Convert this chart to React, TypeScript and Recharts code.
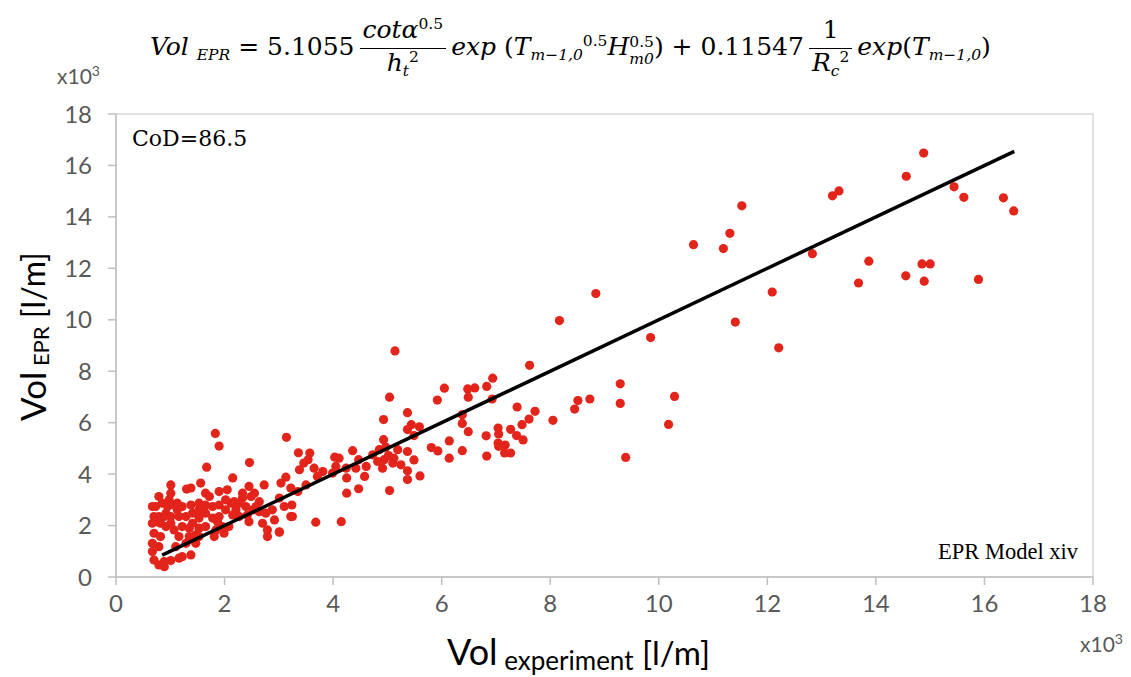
import React from 'react'
import { ScatterChart, Scatter, XAxis, YAxis, ReferenceArea } from 'recharts'

// experimental volume vs EPR-predicted volume, both in x10^3 l/m
const volExperiment = [
  14.88, 14.56, 15.44, 15.62, 16.35, 16.54, 13.2, 13.32, 11.53, 11.31, 10.64, 11.19,
  12.83, 13.87, 14.85, 15.0, 14.55, 14.89, 13.68, 15.89, 12.09, 11.41, 9.85, 12.21,
  8.84, 8.17, 5.14, 7.62, 6.94, 6.83, 6.61, 6.48, 6.05, 6.49, 5.92, 6.93, 5.04, 9.29,
  8.73, 8.51, 8.45, 9.29, 10.29, 10.18, 9.39, 8.05, 7.72, 7.61, 7.39, 7.48, 7.38, 7.5,
  7.27, 7.04, 7.05, 7.04, 7.05, 7.17, 7.16, 7.27, 6.82, 6.83, 6.49, 6.38, 6.38, 6.38,
  6.14, 6.14, 5.93, 5.81, 5.59, 5.44, 5.37, 5.37, 5.49, 5.37, 5.49, 5.37, 5.37, 5.6,
  5.25, 5.04, 4.93, 4.93,
  1.83, 1.9, 3.14, 2.46, 1.67, 3.36, 3.57, 3.54, 3.46, 3.38, 3.13, 3.04, 3.68, 4.15,
  4.03, 4.11, 4.36, 4.47, 4.61, 4.25, 4.25, 4.47, 4.73, 4.85, 4.82, 4.91, 3.71, 3.81,
  3.22, 3.24, 3.22, 3.01, 2.79, 2.79, 2.7, 2.76, 2.88, 2.45, 2.55, 2.73, 2.64, 2.33,
  2.39, 2.45, 2.15, 1.9, 2.05, 2.12, 2.02, 2.21, 1.9, 2.08, 1.84, 1.53, 1.65, 1.53,
  1.78, 1.65, 1.53, 1.47, 1.38, 1.3, 1.56, 1.38, 1.29, 1.22, 1.35, 1.22, 1.38, 1.01,
  1.16, 1.01, 1.01, 1.13, 0.95, 1.01, 1.16, 1.07, 1.16, 1.1, 0.79, 0.73, 0.67, 0.7,
  0.67, 0.7, 0.67, 0.67, 0.7, 0.79, 0.89, 0.89, 0.85, 0.89, 0.92, 0.82, 0.79, 0.98,
  1.07, 1.13, 0.92, 0.79, 0.76, 0.82, 1.01, 1.22, 1.41, 1.59, 1.78, 1.72, 1.9, 1.65,
  1.41, 1.47, 1.87, 1.96, 1.81, 1.99, 2.18, 2.27, 2.27, 2.15, 2.42, 2.52, 2.58, 2.64,
  2.49, 2.33, 2.02, 1.65, 1.53, 1.53, 1.35, 1.29, 3.01, 3.1, 2.92, 3.35, 3.5, 3.65,
  3.99, 4.05, 4.24, 4.42, 4.58, 4.94, 5.1, 5.19, 3.25, 3.01, 5.02, 4.97, 5.12,
]

const volEpr = [
  16.48, 15.58, 15.17, 14.76, 14.74, 14.23, 14.82, 15.01, 14.43, 13.36, 12.92, 12.77,
  12.57, 12.28, 12.17, 12.17, 11.71, 11.5, 11.43, 11.57, 11.08, 9.91, 9.31, 8.91,
  11.02, 9.97, 8.79, 8.23, 7.73, 7.41, 7.35, 7.31, 7.34, 6.99, 6.88, 6.92, 6.99, 7.51,
  6.92, 6.86, 6.53, 6.75, 7.02, 5.93, 4.65, 6.09, 6.44, 6.14, 6.61, 5.92, 5.5, 5.33,
  5.74, 5.79, 5.56, 5.21, 5.08, 5.13, 4.82, 4.82, 5.49, 4.7, 5.65, 5.97, 6.31, 4.91,
  5.29, 4.62, 4.9, 5.03, 5.84, 5.92, 6.39, 5.73, 5.5, 4.88, 4.55, 4.13, 3.79, 3.93,
  4.36, 3.36, 6.12, 5.34,
  5.58, 5.09, 5.43, 4.45, 4.27, 4.83, 4.82, 4.56, 4.43, 4.17, 3.88, 3.65, 2.13, 2.15,
  4.66, 4.62, 4.91, 4.56, 4.3, 3.85, 3.26, 3.43, 4.75, 4.95, 4.49, 4.23, 3.91, 4.1,
  2.35, 2.8, 3.46, 1.76, 1.83, 1.57, 2.09, 2.48, 2.61, 3.52, 3.26, 3.58, 2.93, 3.07,
  2.74, 2.15, 3.85, 3.32, 3.39, 2.87, 2.61, 2.61, 2.35, 1.96, 1.83, 2.87, 2.8, 2.29,
  2.29, 1.96, 1.57, 1.31, 3.46, 3.42, 3.65, 2.8, 2.35, 1.96, 1.9, 0.79, 0.86, 0.64,
  0.73, 3.58, 3.26, 2.87, 2.74, 2.35, 2.35, 1.83, 1.57, 1.18, 3.13, 2.74, 2.74, 2.35,
  2.09, 1.7, 1.31, 0.99, 0.66, 0.47, 0.4, 0.6, 2.87, 2.35, 1.96, 1.57, 1.18, 3.0,
  2.8, 2.61, 2.48, 2.35, 2.15, 2.09, 2.09, 2.74, 2.48, 2.54, 2.74, 3.13, 2.8, 3.26,
  2.09, 1.64, 2.15, 1.96, 1.57, 1.7, 2.93, 2.87, 2.35, 2.41, 2.41, 2.61, 2.74, 2.54,
  3.13, 3.26, 3.0, 2.48, 2.61, 1.9, 1.57, 1.31, 3.07, 2.74, 2.22, 3.32, 3.58, 4.23,
  4.04, 4.3, 4.23, 4.23, 3.91, 4.56, 4.43, 4.95, 2.35, 1.74, 4.72, 5.05, 4.62,
]

// 1:1 line end points
const lineX = [0.85, 16.55]
const lineY = [0.85, 16.55]

const axisTicks = [0, 2, 4, 6, 8, 10, 12, 14, 16, 18]

const points = volExperiment.map((x, i) => ({ x, y: volEpr[i] }))
const fitLine = lineX.map((x, i) => ({ x, y: lineY[i] }))

const GREY_TEXT = '#595959'
const AXIS_GREY = '#BFBFBF'
const SANS = 'Lato, "Open Sans", sans-serif'

function Dot(props: any) {
  return <circle cx={props.cx} cy={props.cy} r={4.6} fill="#E3241B" />
}

function YTitle({ viewBox }: any) {
  const cx = 32
  const cy = viewBox.y + viewBox.height / 2 - 9
  return (
    <text
      x={cx}
      y={cy}
      transform={`rotate(-90, ${cx}, ${cy})`}
      textAnchor="middle"
      dominantBaseline="central"
      fontFamily={SANS}
      fill="#000"
    >
      <tspan fontSize={35}>Vol</tspan>
      <tspan fontSize={22} dy={8}> EPR</tspan>
      <tspan fontSize={32} dy={-8}>  [l/m]</tspan>
    </text>
  )
}

function XTitle() {
  return (
    <text x={447} y={665} textAnchor="start" fontFamily={SANS} fill="#000">
      <tspan fontSize={36}>Vol</tspan>
      <tspan fontSize={26} dy={5}> experiment</tspan>
      <tspan fontSize={33} dy={-5}>  [l/m]</tspan>
    </text>
  )
}

function Frac({ num, den }: { num: React.ReactNode; den: React.ReactNode }) {
  return (
    <span style={{ display: 'inline-flex', flexDirection: 'column', alignItems: 'center', margin: '0 5px', verticalAlign: 'middle' }}>
      <span style={{ padding: '0 3px 3px' }}>{num}</span>
      <span style={{ borderTop: '1.5px solid #000', padding: '0 3px', alignSelf: 'stretch', textAlign: 'center' }}>{den}</span>
    </span>
  )
}

const sub = { fontSize: '0.62em', verticalAlign: '-0.35em' }
const sup = { fontSize: '0.62em', verticalAlign: '0.55em' }

export default function App() {
  return (
    <div style={{ position: 'absolute', left: 0, top: 0, width: 1131, height: 677, background: '#fff', overflow: 'hidden' }}>
      <div
        style={{
          position: 'absolute', left: 150, top: 16, fontFamily: '"DejaVu Serif", serif', fontSize: 25,
          whiteSpace: 'nowrap', color: '#000', lineHeight: 1.15,
        }}
      >
        <i>Vol</i> <i style={sub}>EPR</i> = 5.1055
        <Frac num={<><i>cotα</i><span style={sup}>0.5</span></>} den={<><i>h</i><i style={sub}>t</i><span style={sup}>2</span></>} />
        <i>exp</i> (<i>T</i><i style={sub}>m−1,0</i><span style={sup}>0.5</span><i>H</i>
        <span style={{ display: 'inline-flex', flexDirection: 'column', fontSize: '0.62em', verticalAlign: '0.5em', lineHeight: 1.05 }}>
          <span>0.5</span>
          <i>m0</i>
        </span>) + 0.11547
        <Frac num={<span>1</span>} den={<><i>R</i><i style={sub}>c</i><span style={sup}>2</span></>} />
        <i>exp</i>(<i>T</i><i style={sub}>m−1,0</i>)
      </div>
      <div style={{ position: 'absolute', left: 57, top: 62, fontFamily: SANS, fontSize: 21, color: GREY_TEXT }}>
        x10<sup style={{ fontSize: 14 }}>3</sup>
      </div>
      <div style={{ position: 'absolute', left: 1080, top: 630, fontFamily: SANS, fontSize: 21, color: GREY_TEXT }}>
        x10<sup style={{ fontSize: 14 }}>3</sup>
      </div>
      <div style={{ position: 'absolute', left: 132, top: 126, fontFamily: '"DejaVu Serif", serif', fontSize: 22, color: '#000' }}>
        CoD=86.5
      </div>
      <div style={{ position: 'absolute', left: 938, top: 539, fontFamily: '"Liberation Serif", serif', fontSize: 22.5, color: '#000' }}>
        EPR Model xiv
      </div>
      <ScatterChart width={1131} height={677} margin={{ top: 114, right: 38, bottom: 40, left: 0 }} style={{ position: 'absolute', left: 0, top: 0 }}>
        <XAxis
          type="number"
          dataKey="x"
          domain={[0, 18]}
          ticks={axisTicks}
          height={60}
          tickSize={8}
          tickMargin={10}
          axisLine={{ stroke: AXIS_GREY, strokeWidth: 1.5 }}
          tickLine={{ stroke: AXIS_GREY, strokeWidth: 1.5 }}
          tick={{ fill: GREY_TEXT, fontSize: 24, fontFamily: SANS }}
          label={<XTitle />}
        />
        <YAxis
          type="number"
          dataKey="y"
          domain={[0, 18]}
          ticks={axisTicks}
          width={116}
          tickSize={8}
          tickMargin={16}
          axisLine={{ stroke: AXIS_GREY, strokeWidth: 1.5 }}
          tickLine={{ stroke: AXIS_GREY, strokeWidth: 1.5 }}
          tick={{ fill: GREY_TEXT, fontSize: 24, fontFamily: SANS }}
          label={<YTitle />}
        />
        <ReferenceArea x1={0} x2={18} y1={0} y2={18} fill="none" fillOpacity={0} stroke="#D9D9D9" strokeWidth={1.5} />
        <Scatter data={points} shape={<Dot />} isAnimationActive={false} />
        <Scatter
          data={fitLine}
          line={{ stroke: '#000', strokeWidth: 3.5 }}
          shape={() => <g />}
          isAnimationActive={false}
        />
      </ScatterChart>
    </div>
  )
}
